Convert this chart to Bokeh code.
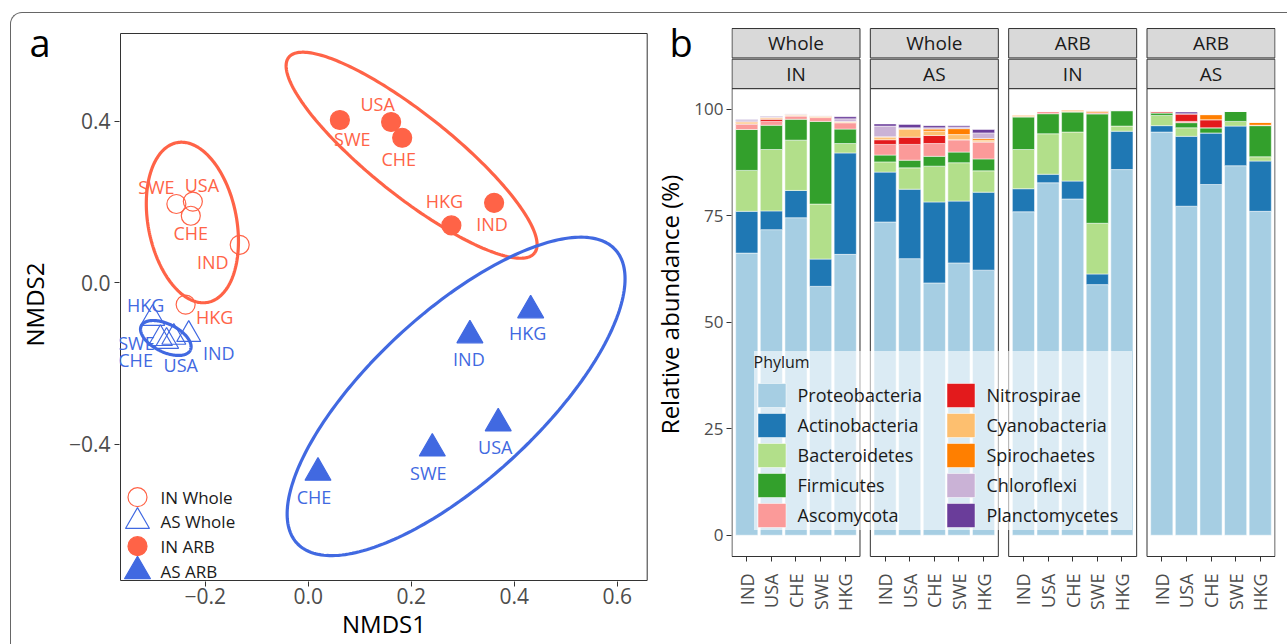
import numpy as np
from bokeh.plotting import figure
from bokeh.layouts import row
from bokeh.models import (ColumnDataSource, FixedTicker, Legend, LegendItem, Range1d, Title,
                          InlineStyleSheet)
from bokeh.core.properties import value
from bokeh.embed import file_html
from bokeh.resources import INLINE

FONT = "Open Sans"
RED = "#FF6347"
BLUE = "#4169E1"

# ---------------- Panel a data (NMDS) ----------------
countries = ["IND", "USA", "CHE", "SWE", "HKG"]

in_whole_x = [-0.133, -0.224, -0.228, -0.256, -0.238]
in_whole_y = [0.094, 0.201, 0.166, 0.195, -0.054]
as_whole_x = [-0.232, -0.261, -0.275, -0.287, -0.302]
as_whole_y = [-0.128, -0.135, -0.145, -0.138, -0.088]
in_arb_x = [0.361, 0.161, 0.1825, 0.0615, 0.278]
in_arb_y = [0.198, 0.398, 0.359, 0.403, 0.142]
as_arb_x = [0.314, 0.369, 0.019, 0.241, 0.432]
as_arb_y = [-0.130, -0.348, -0.470, -0.410, -0.068]

# label offsets in screen pixels (ggrepel-like placement)
in_whole_dx = [-27, 9, 0, -20, 29]
in_whole_dy = [17, -17, 17.5, -17, 12]
as_whole_dx = [30, 7, -31, -24, -7]
as_whole_dy = [18, 28, 19, 4, -13]
in_arb_dx = [-2, -13.5, -3.5, 12.4, -7]
in_arb_dy = [21, -18, 21, 19, -24]
as_arb_dx = [-1, -3, -4, -4, -3]
as_arb_dy = [24, 24, 24, 25, 23]

# confidence ellipses: centre and semi-axis vectors (data units)
ell_group = ["IN Whole", "AS Whole", "IN ARB", "AS ARB"]
ell_color = [RED, BLUE, RED, BLUE]
ell_cx = [-0.2249, -0.2765, 0.2008, 0.2872]
ell_cy = [0.1493, -0.1366, 0.3158, -0.2812]
ell_ax = [0.0300, 0.0476, 0.2386, 0.3090]
ell_ay = [-0.1976, -0.0302, -0.2423, 0.3634]
ell_bx = [-0.0843, -0.0121, -0.0496, 0.1103]
ell_by = [-0.0208, -0.0310, -0.0794, -0.1525]

xa_ticks = [-0.2, 0.0, 0.2, 0.4, 0.6]
xa_labels = ["\u22120.2", "0.0", "0.2", "0.4", "0.6"]
ya_ticks = [-0.4, 0.0, 0.4]
ya_labels = ["\u22120.4", "0.0", "0.4"]
XA = (-0.3645, 0.6583)   # panel limits
YA = (-0.7369, 0.6171)

# ---------------- Panel b data (relative abundance, %) ----------------
facet_top = ["Whole", "Whole", "ARB", "ARB"]
facet_bottom = ["IN", "AS", "IN", "AS"]
phyla = ["Proteobacteria", "Actinobacteria", "Bacteroidetes", "Firmicutes", "Ascomycota",
         "Nitrospirae", "Cyanobacteria", "Spirochaetes", "Chloroflexi", "Planctomycetes"]
phyla_colors = ["#A6CEE3", "#1F78B4", "#B2DF8A", "#33A02C", "#FB9A99",
                "#E31A1C", "#FDBF6F", "#FF7F00", "#CAB2D6", "#6A3D9A"]
# each list: Whole-IN (IND USA CHE SWE HKG), Whole-AS, ARB-IN, ARB-AS
proteobacteria = [66.2, 71.7, 74.5, 58.4, 65.9, 73.5, 64.9, 59.2, 63.9, 62.2,
                  75.9, 82.7, 78.9, 58.8, 85.8, 94.6, 77.2, 82.3, 86.7, 76.0]
actinobacteria = [9.8, 4.4, 6.4, 6.4, 23.8, 11.7, 16.3, 19.0, 14.5, 18.3,
                  5.4, 2.0, 4.2, 2.5, 9.0, 1.5, 16.4, 12.1, 9.3, 11.8]
bacteroidetes = [9.6, 14.4, 11.8, 12.9, 2.2, 2.4, 5.0, 8.4, 9.0, 5.0,
                 9.2, 9.5, 11.5, 11.9, 1.2, 2.4, 2.0, 0.0, 1.1, 1.0]
firmicutes = [9.6, 5.7, 4.9, 19.4, 3.4, 1.6, 1.8, 2.3, 2.5, 2.8,
              7.7, 4.7, 4.7, 25.7, 3.6, 0.6, 1.2, 1.2, 2.4, 7.3]
ascomycota = [1.2, 0.9, 0.8, 0.9, 1.5, 2.5, 3.7, 3.0, 2.9, 4.0,
              0.0, 0.6, 0.1, 0.0, 0.2, 0.0, 0.3, 0.0, 0.0, 0.1]
nitrospirae = [0.1, 0.5, 0.0, 0.0, 0.0, 1.1, 1.7, 1.9, 0.0, 0.0,
               0.0, 0.0, 0.0, 0.2, 0.0, 0.4, 1.8, 1.9, 0.0, 0.0]
cyanobacteria = [0.3, 0.2, 0.2, 0.1, 0.2, 0.5, 1.9, 1.0, 1.2, 0.4,
                 0.1, 0.0, 0.1, 0.0, 0.0, 0.0, 0.0, 0.0, 0.0, 0.0]
spirochaetes = [0.2, 0.2, 0.1, 0.2, 0.1, 0.2, 0.1, 0.5, 1.4, 0.4,
                0.3, 0.0, 0.3, 0.4, 0.0, 0.0, 0.0, 1.2, 0.0, 0.7]
chloroflexi = [0.3, 0.2, 0.2, 0.1, 0.6, 2.5, 0.2, 0.3, 0.4, 1.3,
               0.0, 0.0, 0.0, 0.1, 0.0, 0.0, 0.0, 0.0, 0.0, 0.0]
planctomycetes = [0.2, 0.1, 0.0, 0.0, 0.5, 0.5, 0.8, 0.5, 0.3, 0.8,
                  0.0, 0.0, 0.0, 0.0, 0.0, 0.0, 0.4, 0.0, 0.0, 0.0]
yb_ticks = [0, 25, 50, 75, 100]

# common vertical geometry (frames of both panels share top/bottom borders)
H = 644
TOP_B, BOT_B = 27, 63
FRAME_H = H - TOP_B - BOT_B          # 554 px: canvas y 27 .. 581

# ======================= Panel a =======================
A_W, A_L, A_R = 650, 119, 2
A_FW = A_W - A_L - A_R               # 529 px: canvas x 119 .. 648
BOX_L, BOX_R, BOX_T, BOX_B = 120, 646.7, 33, 580   # panel box in canvas px
ppx = (BOX_R - BOX_L) / (XA[1] - XA[0])
ppy = (BOX_B - BOX_T) / (YA[1] - YA[0])
xr = Range1d(XA[0] - (BOX_L - A_L) / ppx, XA[1] + (A_L + A_FW - BOX_R) / ppx)
yr = Range1d(YA[0] - (TOP_B + FRAME_H - BOX_B) / ppy, YA[1] + (BOX_T - TOP_B) / ppy)

pa = figure(width=A_W, height=H, x_range=xr, y_range=yr, output_backend="svg",
            toolbar_location=None, title_location=None,
            min_border_left=A_L, min_border_right=A_R, min_border_top=TOP_B, min_border_bottom=BOT_B)
pa.xgrid.visible = False
pa.ygrid.visible = False
pa.outline_line_color = None
pa.background_fill_color = "white"
pa.border_fill_color = "white"

for ax, ticks, labels in ((pa.xaxis, xa_ticks, xa_labels), (pa.yaxis, ya_ticks, ya_labels)):
    ax.ticker = FixedTicker(ticks=ticks)
    ax.major_label_overrides = {tk: lb for tk, lb in zip(ticks, labels)}
    ax.major_label_text_font = FONT
    ax.major_label_text_font_size = "21px"
    ax.major_label_text_color = "#4D4D4D"
    ax.major_tick_out = 5
    ax.major_tick_in = 0
    ax.major_tick_line_color = "#333333"
    ax.minor_tick_line_color = None
    ax.axis_line_color = None
    ax.axis_label_text_font = FONT
    ax.axis_label_text_font_size = "24px"
    ax.axis_label_text_font_style = "normal"
    ax.axis_label_text_color = "black"
pa.xaxis.axis_label = "NMDS1"
pa.xaxis.major_label_standoff = 1
pa.xaxis.axis_label_standoff = 0
pa.yaxis.axis_label = "NMDS2"
pa.yaxis.major_label_standoff = 4
pa.yaxis.axis_label_standoff = 15

# panel box
pa.quad(left=[XA[0]], right=[XA[1]], bottom=[YA[0]], top=[YA[1]], fill_alpha=0,
        line_color="#333333", line_width=1)

# ellipses
t = np.linspace(0, 2 * np.pi, 240)
for cx, cy, axx, ayy, bxx, byy, col in zip(ell_cx, ell_cy, ell_ax, ell_ay, ell_bx, ell_by, ell_color):
    ex = cx + axx * np.cos(t) + bxx * np.sin(t)
    ey = cy + ayy * np.cos(t) + byy * np.sin(t)
    pa.line(ex, ey, line_color=col, line_width=3.2)

groups = [
    (in_whole_x, in_whole_y, in_whole_dx, in_whole_dy, RED, "circle", False, 19),
    (as_whole_x, as_whole_y, as_whole_dx, as_whole_dy, BLUE, "triangle", False, 24),
    (in_arb_x, in_arb_y, in_arb_dx, in_arb_dy, RED, "circle", True, 19),
    (as_arb_x, as_arb_y, as_arb_dx, as_arb_dy, BLUE, "triangle", True, 26),
]
for gx, gy, gdx, gdy, col, mk, filled, sz in groups:
    src = ColumnDataSource(dict(x=gx, y=gy))
    pa.scatter("x", "y", source=src, marker=mk, size=sz, line_color=col, line_width=1.2,
               fill_color=col, fill_alpha=1.0 if filled else 0.0)
for gx, gy, gdx, gdy, col, mk, filled, sz in groups:
    src = ColumnDataSource(dict(x=gx, y=gy, dx=gdx, dy=gdy, lab=countries))
    pa.text("x", "y", text="lab", x_offset="dx", y_offset="dy", source=src,
            text_font=value(FONT), text_font_size="18px", text_color=col,
            text_align="center", text_baseline="middle")

# legend of panel a (bottom-left inside the panel)
leg_names = ["IN Whole", "AS Whole", "IN ARB", "AS ARB"]
leg_rows_px = [83.3, 59.0, 34.3, 9.3]          # distance above the panel bottom
for (gx, gy, gdx, gdy, col, mk, filled, sz), name, rp in zip(groups, leg_names, leg_rows_px):
    ly = YA[0] + rp / ppy
    pa.scatter([XA[0] + 17 / ppx], [ly], marker=mk, size=sz, line_color=col, line_width=1.2,
               fill_color=col, fill_alpha=1.0 if filled else 0.0)
    pa.text([XA[0] + 40 / ppx], [ly], text=[name], text_font=value(FONT), text_font_size="17px",
            text_color="#1A1A1A", text_align="left", text_baseline="middle")

pa.add_layout(Title(text="\na", align="left", offset=-90, standoff=-80, vertical_align="bottom",
                    text_font=FONT, text_font_size="38px", text_font_style="normal",
                    text_color="black"), "above")

# ======================= Panel b =======================
PER, STEP, BW = 281, 50, 45
bar_x = [k * PER + STEP * (i + 1) for k in range(4) for i in range(5)]
bar_lab = [c for k in range(4) for c in countries]
Y_LO, PANEL_TOP = -4.99, 104.79
PPU_B = 4.262                       # px per percent
PANEL_BOTTOM_PX = 556
STRIP_H, STRIP_GAP = 6.9, 0.3

B_W, B_L, B_R = 637, 74, 12
yb0 = Y_LO - (TOP_B + FRAME_H - PANEL_BOTTOM_PX) / PPU_B
pb = figure(width=B_W, height=H, x_range=Range1d(19, 3 * PER + 281),
            y_range=Range1d(yb0, yb0 + FRAME_H / PPU_B),
            output_backend="svg", toolbar_location=None, title_location=None,
            min_border_left=B_L, min_border_right=B_R, min_border_top=TOP_B, min_border_bottom=BOT_B)
pb.xgrid.visible = False
pb.ygrid.visible = False
pb.outline_line_color = None
pb.background_fill_color = "white"
pb.border_fill_color = "white"

data = dict(x=bar_x)
series = [proteobacteria, actinobacteria, bacteroidetes, firmicutes, ascomycota,
          nitrospirae, cyanobacteria, spirochaetes, chloroflexi, planctomycetes]
for ph, s in zip(phyla, series):
    data[ph] = s
bsrc = ColumnDataSource(data)
rs = pb.vbar_stack(phyla, x="x", width=BW, fill_color=phyla_colors, line_color="white",
                   line_width=0.5, source=bsrc)

f_left = [k * PER + 0.4 * STEP for k in range(4)]
f_right = [k * PER + 5.6 * STEP for k in range(4)]
f_mid = [(l + r) / 2 for l, r in zip(f_left, f_right)]
pb.quad(left=f_left, right=f_right, bottom=Y_LO, top=PANEL_TOP, fill_alpha=0,
        line_color="#333333", line_width=1)
s1_b, s1_t = PANEL_TOP, PANEL_TOP + STRIP_H
s2_b, s2_t = s1_t + STRIP_GAP, s1_t + STRIP_GAP + STRIP_H
pb.quad(left=f_left, right=f_right, bottom=s1_b, top=s1_t, fill_color="#D9D9D9",
        line_color="#333333", line_width=1)
pb.quad(left=f_left, right=f_right, bottom=s2_b, top=s2_t, fill_color="#D9D9D9",
        line_color="#333333", line_width=1)
pb.text(f_mid, [(s1_b + s1_t) / 2] * 4, text=facet_bottom, text_font=value(FONT),
        text_font_size="19px", text_color="#1A1A1A", text_align="center", text_baseline="middle")
pb.text(f_mid, [(s2_b + s2_t) / 2] * 4, text=facet_top, text_font=value(FONT),
        text_font_size="19px", text_color="#1A1A1A", text_align="center", text_baseline="middle")

for ax in (pb.xaxis, pb.yaxis):
    ax.major_label_text_font = FONT
    ax.major_label_text_font_size = "17px"
    ax.major_label_text_color = "#4D4D4D"
    ax.major_tick_line_color = "#333333"
    ax.minor_tick_line_color = None
    ax.axis_line_color = None
    ax.axis_label_text_font = FONT
    ax.axis_label_text_font_size = "24px"
    ax.axis_label_text_font_style = "normal"
    ax.axis_label_text_color = "black"
pb.yaxis.ticker = FixedTicker(ticks=yb_ticks)
pb.yaxis.major_tick_out = 5
pb.yaxis.major_tick_in = 0
pb.yaxis.major_label_standoff = 3
pb.yaxis.axis_label = "Relative abundance (%)"
pb.yaxis.axis_label_standoff = 5

# x axis sits at the frame bottom; ticks are drawn up at the panel bottom
gap_px = TOP_B + FRAME_H - PANEL_BOTTOM_PX
pb.xaxis.ticker = FixedTicker(ticks=bar_x)
pb.xaxis.major_label_overrides = {x: l for x, l in zip(bar_x, bar_lab)}
pb.xaxis.major_label_orientation = np.pi / 2
pb.xaxis.major_label_text_font_size = "18px"
pb.xaxis.major_tick_in = gap_px
pb.xaxis.major_tick_out = 5 - gap_px
pb.xaxis.major_label_standoff = 17 - gap_px

legend = Legend(items=[LegendItem(label=ph, renderers=[r]) for ph, r in zip(phyla, rs)],
                location=(22.5, 51), ncols=2, title="Phylum",
                title_text_font=FONT, title_text_font_size="16px", title_text_font_style="normal",
                title_text_color="#1A1A1A", title_standoff=7,
                label_text_font=FONT, label_text_font_size="18px", label_text_color="#1A1A1A",
                glyph_width=35, glyph_height=30, label_height=30, label_standoff=9,
                label_width=145, spacing=0, padding=7, margin=0,
                background_fill_color="white", background_fill_alpha=0.6, border_line_color=None)
pb.add_layout(legend)

pb.add_layout(Title(text="\nb", align="left", offset=-62, standoff=-80, vertical_align="bottom",
                    text_font=FONT, text_font_size="38px", text_font_style="normal",
                    text_color="black"), "above")

frame_css = InlineStyleSheet(css="""
:host::after {
  content: "";
  position: absolute;
  left: 10px; top: 12px; right: 0; bottom: 0;
  box-sizing: border-box;
  border-top: 1px solid #666666;
  border-left: 1px solid #666666;
  border-top-left-radius: 12px;
  pointer-events: none;
  z-index: 10;
}
""")
layout = row(pa, pb, stylesheets=[frame_css])
open("out.html", "w").write(file_html(layout, INLINE))
